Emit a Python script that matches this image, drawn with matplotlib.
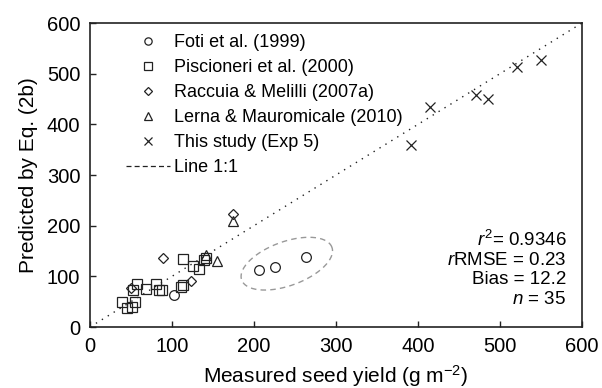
import matplotlib.pyplot as plt
import numpy as np
from matplotlib.lines import Line2D

plt.rcParams['font.family'] = ['Liberation Sans', 'DejaVu Sans']
plt.rcParams['mathtext.fontset'] = 'custom'
plt.rcParams['mathtext.rm'] = 'Liberation Sans'
plt.rcParams['mathtext.it'] = 'Liberation Sans:italic'

# --- Datos ---
foti_x = [103, 206, 226, 263]
foti_y = [63, 113, 118, 139]

pisc_x = [39, 45, 51, 55, 53, 57, 68, 80, 84, 88, 111, 113, 113, 126, 133, 139, 141]
pisc_y = [49, 37, 40, 49, 73, 85, 75, 84, 74, 73, 78, 83, 135, 120, 114, 133, 137]

racc_x = [50, 89, 123, 174]
racc_y = [77, 136, 90, 223]

lerna_x = [142, 155, 174]
lerna_y = [143, 130, 210]

this_x = [392, 415, 471, 485, 521, 550]
this_y = [359, 435, 458, 451, 514, 527]

stats = [r'$r^2$= 0.9346', r'$r$RMSE = 0.23', 'Bias = 12.2', r'$n$ = 35']

# elipse que rodea los datos de Foti (semiejes en pixeles de pantalla)
elip_centro = (240, 125)
elip_a, elip_b, elip_ang = 48, 22, 20

fig = plt.figure(figsize=(6.02, 3.88), dpi=100)
ax = fig.add_axes([0.1495, 0.1572, 0.8173, 0.7835])

mk = dict(linestyle='none', markerfacecolor='none', markeredgecolor='#222222', markeredgewidth=0.9)
ax.plot(foti_x, foti_y, 'o', markersize=7, label='Foti et al. (1999)', **mk)
ax.plot(pisc_x, pisc_y, 's', markersize=7.5, label='Piscioneri et al. (2000)', **mk)
ax.plot(racc_x, racc_y, 'D', markersize=5.5, label='Raccuia & Melilli (2007a)', **mk)
ax.plot(lerna_x, lerna_y, '^', markersize=7.5, label='Lerna & Mauromicale (2010)', **mk)
ax.plot(this_x, this_y, 'x', markersize=7.5, label='This study (Exp 5)', **mk)

ax.plot([0, 600], [0, 600], color='#222222', linestyle=(0, (1, 4)), linewidth=1.0)

# elipse discontinua (parametrica, pixeles -> datos)
px_x = 0.82   # px por unidad en x
px_y = 0.507  # px por unidad en y
t = np.linspace(0, 2 * np.pi, 200)
th = np.radians(elip_ang)
ex = elip_centro[0] + (elip_a * np.cos(th) * np.cos(t) - elip_b * np.sin(th) * np.sin(t)) / px_x
ey = elip_centro[1] + (elip_a * np.sin(th) * np.cos(t) + elip_b * np.cos(th) * np.sin(t)) / px_y
ax.plot(ex, ey, color='#999999', linestyle=(0, (4, 3)), linewidth=1.0)

handles, labels = ax.get_legend_handles_labels()
handles.append(Line2D([], [], color='#222222', linestyle=(0, (4, 2.5)), linewidth=0.9))
labels.append('Line 1:1')
ax.legend(handles, labels, loc='upper left', frameon=False, fontsize=13,
          markerscale=0.75, handlelength=2.4, handletextpad=0.25,
          labelspacing=0.45, borderaxespad=0.2, bbox_to_anchor=(0.052, 1.0))

ypos = [0.286, 0.220, 0.155, 0.089]
for txt, yy in zip(stats, ypos):
    ax.text(0.968, yy, txt, transform=ax.transAxes, ha='right', va='center', fontsize=13.5)

ax.set_xlim(0, 600)
ax.set_ylim(0, 600)
ax.set_xticks(np.arange(0, 601, 100))
ax.set_yticks(np.arange(0, 601, 100))
ax.tick_params(direction='in', length=4, width=1, labelsize=14.5, pad=7,
               top=False, right=False, color='#222222')
for s in ax.spines.values():
    s.set_linewidth(1.2)
    s.set_color('#222222')

ax.set_xlabel(r'Measured seed yield (g m$^{-2}$)', fontsize=15, labelpad=5)
ax.set_ylabel('Predicted by Eq. (2b)', fontsize=15, labelpad=6)

fig.savefig('out.png', dpi=100)
